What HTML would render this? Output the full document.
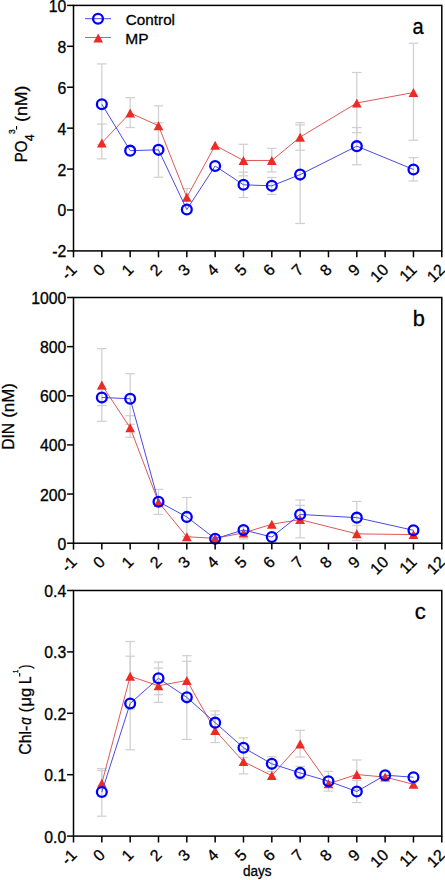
<!DOCTYPE html>
<html><head><meta charset="utf-8"><style>
html,body{margin:0;padding:0;background:#fff;}
body{width:445px;height:880px;overflow:hidden;}
svg{display:block;font-family:"Liberation Sans", sans-serif;}
text{stroke:#000;stroke-width:0.3px;}
</style></head><body>
<svg width="445" height="880" viewBox="0 0 445 880">
<g stroke="#d0d0d0" stroke-width="1.25" fill="none">
<path d="M101.83 124.06V158.84"/>
<path d="M97.03 124.06H106.63"/>
<path d="M97.03 158.84H106.63"/>
<path d="M130.16 97.67V127.54"/>
<path d="M125.36 97.67H134.96"/>
<path d="M125.36 127.54H134.96"/>
<path d="M158.49 105.85V145.54"/>
<path d="M153.69 105.85H163.29"/>
<path d="M153.69 145.54H163.29"/>
<path d="M186.82 188.5V206.1"/>
<path d="M182.02 188.5H191.62"/>
<path d="M182.02 206.1H191.62"/>
<path d="M243.48 144.31V175.82"/>
<path d="M238.68 144.31H248.28"/>
<path d="M238.68 175.82H248.28"/>
<path d="M271.81 148.4V171.93"/>
<path d="M267.01 148.4H276.61"/>
<path d="M267.01 171.93H276.61"/>
<path d="M300.14 122.63V150.25"/>
<path d="M295.34 122.63H304.94"/>
<path d="M295.34 150.25H304.94"/>
<path d="M356.8 72.5V132.65"/>
<path d="M352 72.5H361.6"/>
<path d="M352 132.65H361.6"/>
<path d="M413.46 43.25V140.22"/>
<path d="M408.66 43.25H418.26"/>
<path d="M408.66 140.22H418.26"/>
<path d="M101.83 63.91V144.52"/>
<path d="M97.03 63.91H106.63"/>
<path d="M97.03 144.52H106.63"/>
<path d="M158.49 122.63V177.25"/>
<path d="M153.69 122.63H163.29"/>
<path d="M153.69 177.25H163.29"/>
<path d="M243.48 172.14V197.5"/>
<path d="M238.68 172.14H248.28"/>
<path d="M238.68 197.5H248.28"/>
<path d="M271.81 177.45V194.44"/>
<path d="M267.01 177.45H276.61"/>
<path d="M267.01 194.44H276.61"/>
<path d="M300.14 124.88V223.49"/>
<path d="M295.34 124.88H304.94"/>
<path d="M295.34 223.49H304.94"/>
<path d="M356.8 127.54V164.77"/>
<path d="M352 127.54H361.6"/>
<path d="M352 164.77H361.6"/>
<path d="M413.46 157.61V180.93"/>
<path d="M408.66 157.61H418.26"/>
<path d="M408.66 180.93H418.26"/>
</g>
<polyline points="101.83,142.88 130.16,113.01 158.49,125.7 186.82,197.3 215.15,145.34 243.48,160.47 271.81,160.47 300.14,137.15 356.8,102.99 413.46,92.55" fill="none" stroke="#dc5a5a" stroke-width="1"/>
<path d="M101.83 138.38L106.68 147.38L96.98 147.38Z" fill="#ee2a24"/>
<path d="M130.16 108.51L135.01 117.51L125.31 117.51Z" fill="#ee2a24"/>
<path d="M158.49 121.2L163.34 130.19L153.64 130.19Z" fill="#ee2a24"/>
<path d="M186.82 192.8L191.67 201.8L181.97 201.8Z" fill="#ee2a24"/>
<path d="M215.15 140.84L220 149.84L210.3 149.84Z" fill="#ee2a24"/>
<path d="M243.48 155.97L248.33 164.97L238.63 164.97Z" fill="#ee2a24"/>
<path d="M271.81 155.97L276.66 164.97L266.96 164.97Z" fill="#ee2a24"/>
<path d="M300.14 132.65L304.99 141.65L295.29 141.65Z" fill="#ee2a24"/>
<path d="M356.8 98.49L361.65 107.49L351.95 107.49Z" fill="#ee2a24"/>
<path d="M413.46 88.05L418.31 97.05L408.61 97.05Z" fill="#ee2a24"/>
<polyline points="101.83,104.21 130.16,150.65 158.49,149.84 186.82,209.57 215.15,166 243.48,184.82 271.81,185.84 300.14,174.59 356.8,146.15 413.46,169.48" fill="none" stroke="#4a4ae8" stroke-width="1"/>
<circle cx="101.83" cy="104.21" r="4.9" fill="none" stroke="#0000ff" stroke-width="2.3"/>
<circle cx="130.16" cy="150.65" r="4.9" fill="none" stroke="#0000ff" stroke-width="2.3"/>
<circle cx="158.49" cy="149.84" r="4.9" fill="none" stroke="#0000ff" stroke-width="2.3"/>
<circle cx="186.82" cy="209.57" r="4.9" fill="none" stroke="#0000ff" stroke-width="2.3"/>
<circle cx="215.15" cy="166" r="4.9" fill="none" stroke="#0000ff" stroke-width="2.3"/>
<circle cx="243.48" cy="184.82" r="4.9" fill="none" stroke="#0000ff" stroke-width="2.3"/>
<circle cx="271.81" cy="185.84" r="4.9" fill="none" stroke="#0000ff" stroke-width="2.3"/>
<circle cx="300.14" cy="174.59" r="4.9" fill="none" stroke="#0000ff" stroke-width="2.3"/>
<circle cx="356.8" cy="146.15" r="4.9" fill="none" stroke="#0000ff" stroke-width="2.3"/>
<circle cx="413.46" cy="169.48" r="4.9" fill="none" stroke="#0000ff" stroke-width="2.3"/>
<rect x="73.5" y="5.4" width="368.29" height="245.5" fill="none" stroke="#000" stroke-width="1.5"/>
<g stroke="#000" stroke-width="1.5">
<path d="M67.1 250.9H73.5"/>
<path d="M67.1 209.98H73.5"/>
<path d="M67.1 169.07H73.5"/>
<path d="M67.1 128.15H73.5"/>
<path d="M67.1 87.23H73.5"/>
<path d="M67.1 46.32H73.5"/>
<path d="M67.1 5.4H73.5"/>
<path d="M73.5 250.9V257.3"/>
<path d="M101.83 250.9V257.3"/>
<path d="M130.16 250.9V257.3"/>
<path d="M158.49 250.9V257.3"/>
<path d="M186.82 250.9V257.3"/>
<path d="M215.15 250.9V257.3"/>
<path d="M243.48 250.9V257.3"/>
<path d="M271.81 250.9V257.3"/>
<path d="M300.14 250.9V257.3"/>
<path d="M328.47 250.9V257.3"/>
<path d="M356.8 250.9V257.3"/>
<path d="M385.13 250.9V257.3"/>
<path d="M413.46 250.9V257.3"/>
<path d="M441.79 250.9V257.3"/>
</g>
<g font-size="15.8" text-anchor="end" fill="#000">
<text x="66.3" y="257.4">-2</text>
<text x="66.3" y="216.48">0</text>
<text x="66.3" y="175.57">2</text>
<text x="66.3" y="134.65">4</text>
<text x="66.3" y="93.73">6</text>
<text x="66.3" y="52.82">8</text>
<text x="66.3" y="11.9">10</text>
</g>
<g font-size="16.0" text-anchor="end" fill="#000">
<text transform="translate(74 266.9) rotate(-45)" x="0" y="5.4">-1</text>
<text transform="translate(102.33 266.9) rotate(-45)" x="0" y="5.4">0</text>
<text transform="translate(130.66 266.9) rotate(-45)" x="0" y="5.4">1</text>
<text transform="translate(158.99 266.9) rotate(-45)" x="0" y="5.4">2</text>
<text transform="translate(187.32 266.9) rotate(-45)" x="0" y="5.4">3</text>
<text transform="translate(215.65 266.9) rotate(-45)" x="0" y="5.4">4</text>
<text transform="translate(243.98 266.9) rotate(-45)" x="0" y="5.4">5</text>
<text transform="translate(272.31 266.9) rotate(-45)" x="0" y="5.4">6</text>
<text transform="translate(300.64 266.9) rotate(-45)" x="0" y="5.4">7</text>
<text transform="translate(328.97 266.9) rotate(-45)" x="0" y="5.4">8</text>
<text transform="translate(357.3 266.9) rotate(-45)" x="0" y="5.4">9</text>
<text transform="translate(385.63 266.9) rotate(-45)" x="0" y="5.4">10</text>
<text transform="translate(413.96 266.9) rotate(-45)" x="0" y="5.4">11</text>
<text transform="translate(442.29 266.9) rotate(-45)" x="0" y="5.4">12</text>
</g>
<g stroke="#d0d0d0" stroke-width="1.25" fill="none">
<path d="M101.83 348.61V421.33"/>
<path d="M97.03 348.61H106.63"/>
<path d="M97.03 421.33H106.63"/>
<path d="M130.16 415.68V437.3"/>
<path d="M125.36 415.68H134.96"/>
<path d="M125.36 437.3H134.96"/>
<path d="M243.48 526.74V539.02"/>
<path d="M238.68 526.74H248.28"/>
<path d="M238.68 539.02H248.28"/>
<path d="M300.14 499.96V537.79"/>
<path d="M295.34 499.96H304.94"/>
<path d="M295.34 537.79H304.94"/>
<path d="M356.8 525.51V540.5"/>
<path d="M352 525.51H361.6"/>
<path d="M352 540.5H361.6"/>
<path d="M101.83 389.39V405.61"/>
<path d="M97.03 389.39H106.63"/>
<path d="M97.03 405.61H106.63"/>
<path d="M130.16 373.67V424.28"/>
<path d="M125.36 373.67H134.96"/>
<path d="M125.36 424.28H134.96"/>
<path d="M158.49 489.39V514.45"/>
<path d="M153.69 489.39H163.29"/>
<path d="M153.69 514.45H163.29"/>
<path d="M186.82 497.5V536.32"/>
<path d="M182.02 497.5H191.62"/>
<path d="M182.02 536.32H191.62"/>
<path d="M300.14 505.36V523.54"/>
<path d="M295.34 505.36H304.94"/>
<path d="M295.34 523.54H304.94"/>
<path d="M356.8 501.43V533.86"/>
<path d="M352 501.43H361.6"/>
<path d="M352 533.86H361.6"/>
</g>
<polyline points="101.83,384.97 130.16,427.72 158.49,502.17 186.82,536.81 215.15,538.29 243.48,532.88 271.81,524.28 300.14,519.61 356.8,533.86 413.46,534.6" fill="none" stroke="#dc5a5a" stroke-width="1"/>
<path d="M101.83 380.47L106.68 389.47L96.98 389.47Z" fill="#ee2a24"/>
<path d="M130.16 423.22L135.01 432.22L125.31 432.22Z" fill="#ee2a24"/>
<path d="M158.49 497.67L163.34 506.67L153.64 506.67Z" fill="#ee2a24"/>
<path d="M186.82 532.31L191.67 541.31L181.97 541.31Z" fill="#ee2a24"/>
<path d="M215.15 533.79L220 542.79L210.3 542.79Z" fill="#ee2a24"/>
<path d="M243.48 528.38L248.33 537.38L238.63 537.38Z" fill="#ee2a24"/>
<path d="M271.81 519.78L276.66 528.78L266.96 528.78Z" fill="#ee2a24"/>
<path d="M300.14 515.11L304.99 524.11L295.29 524.11Z" fill="#ee2a24"/>
<path d="M356.8 529.36L361.65 538.36L351.95 538.36Z" fill="#ee2a24"/>
<path d="M413.46 530.1L418.31 539.1L408.61 539.1Z" fill="#ee2a24"/>
<polyline points="101.83,397.5 130.16,398.73 158.49,501.68 186.82,516.91 215.15,538.78 243.48,529.93 271.81,537.06 300.14,514.45 356.8,517.65 413.46,530.3" fill="none" stroke="#4a4ae8" stroke-width="1"/>
<circle cx="101.83" cy="397.5" r="4.9" fill="none" stroke="#0000ff" stroke-width="2.3"/>
<circle cx="130.16" cy="398.73" r="4.9" fill="none" stroke="#0000ff" stroke-width="2.3"/>
<circle cx="158.49" cy="501.68" r="4.9" fill="none" stroke="#0000ff" stroke-width="2.3"/>
<circle cx="186.82" cy="516.91" r="4.9" fill="none" stroke="#0000ff" stroke-width="2.3"/>
<circle cx="215.15" cy="538.78" r="4.9" fill="none" stroke="#0000ff" stroke-width="2.3"/>
<circle cx="243.48" cy="529.93" r="4.9" fill="none" stroke="#0000ff" stroke-width="2.3"/>
<circle cx="271.81" cy="537.06" r="4.9" fill="none" stroke="#0000ff" stroke-width="2.3"/>
<circle cx="300.14" cy="514.45" r="4.9" fill="none" stroke="#0000ff" stroke-width="2.3"/>
<circle cx="356.8" cy="517.65" r="4.9" fill="none" stroke="#0000ff" stroke-width="2.3"/>
<circle cx="413.46" cy="530.3" r="4.9" fill="none" stroke="#0000ff" stroke-width="2.3"/>
<rect x="73.5" y="297.5" width="368.29" height="245.7" fill="none" stroke="#000" stroke-width="1.5"/>
<g stroke="#000" stroke-width="1.5">
<path d="M67.1 543.2H73.5"/>
<path d="M67.1 494.06H73.5"/>
<path d="M67.1 444.92H73.5"/>
<path d="M67.1 395.78H73.5"/>
<path d="M67.1 346.64H73.5"/>
<path d="M67.1 297.5H73.5"/>
<path d="M73.5 543.2V549.6"/>
<path d="M101.83 543.2V549.6"/>
<path d="M130.16 543.2V549.6"/>
<path d="M158.49 543.2V549.6"/>
<path d="M186.82 543.2V549.6"/>
<path d="M215.15 543.2V549.6"/>
<path d="M243.48 543.2V549.6"/>
<path d="M271.81 543.2V549.6"/>
<path d="M300.14 543.2V549.6"/>
<path d="M328.47 543.2V549.6"/>
<path d="M356.8 543.2V549.6"/>
<path d="M385.13 543.2V549.6"/>
<path d="M413.46 543.2V549.6"/>
<path d="M441.79 543.2V549.6"/>
</g>
<g font-size="15.8" text-anchor="end" fill="#000">
<text x="66.3" y="549.7">0</text>
<text x="66.3" y="500.56">200</text>
<text x="66.3" y="451.42">400</text>
<text x="66.3" y="402.28">600</text>
<text x="66.3" y="353.14">800</text>
<text x="66.3" y="304">1000</text>
</g>
<g font-size="16.0" text-anchor="end" fill="#000">
<text transform="translate(74 559.2) rotate(-45)" x="0" y="5.4">-1</text>
<text transform="translate(102.33 559.2) rotate(-45)" x="0" y="5.4">0</text>
<text transform="translate(130.66 559.2) rotate(-45)" x="0" y="5.4">1</text>
<text transform="translate(158.99 559.2) rotate(-45)" x="0" y="5.4">2</text>
<text transform="translate(187.32 559.2) rotate(-45)" x="0" y="5.4">3</text>
<text transform="translate(215.65 559.2) rotate(-45)" x="0" y="5.4">4</text>
<text transform="translate(243.98 559.2) rotate(-45)" x="0" y="5.4">5</text>
<text transform="translate(272.31 559.2) rotate(-45)" x="0" y="5.4">6</text>
<text transform="translate(300.64 559.2) rotate(-45)" x="0" y="5.4">7</text>
<text transform="translate(328.97 559.2) rotate(-45)" x="0" y="5.4">8</text>
<text transform="translate(357.3 559.2) rotate(-45)" x="0" y="5.4">9</text>
<text transform="translate(385.63 559.2) rotate(-45)" x="0" y="5.4">10</text>
<text transform="translate(413.96 559.2) rotate(-45)" x="0" y="5.4">11</text>
<text transform="translate(442.29 559.2) rotate(-45)" x="0" y="5.4">12</text>
</g>
<g stroke="#d0d0d0" stroke-width="1.25" fill="none">
<path d="M101.83 770.4V796.19"/>
<path d="M97.03 770.4H106.63"/>
<path d="M97.03 796.19H106.63"/>
<path d="M130.16 641.46V709"/>
<path d="M125.36 641.46H134.96"/>
<path d="M125.36 709H134.96"/>
<path d="M158.49 668.11V702.37"/>
<path d="M153.69 668.11H163.29"/>
<path d="M153.69 702.37H163.29"/>
<path d="M186.82 661.29V699.79"/>
<path d="M182.02 661.29H191.62"/>
<path d="M182.02 699.79H191.62"/>
<path d="M215.15 714.9V742.59"/>
<path d="M210.35 714.9H219.95"/>
<path d="M210.35 742.59H219.95"/>
<path d="M243.48 749.34V773.9"/>
<path d="M238.68 749.34H248.28"/>
<path d="M238.68 773.9H248.28"/>
<path d="M300.14 730.37V757.02"/>
<path d="M295.34 730.37H304.94"/>
<path d="M295.34 757.02H304.94"/>
<path d="M356.8 759.96V789.44"/>
<path d="M352 759.96H361.6"/>
<path d="M352 789.44H361.6"/>
<path d="M101.83 768.56V816.21"/>
<path d="M97.03 768.56H106.63"/>
<path d="M97.03 816.21H106.63"/>
<path d="M130.16 656.2V749.77"/>
<path d="M125.36 656.2H134.96"/>
<path d="M125.36 749.77H134.96"/>
<path d="M158.49 661.97V694.7"/>
<path d="M153.69 661.97H163.29"/>
<path d="M153.69 694.7H163.29"/>
<path d="M186.82 655.71V739.39"/>
<path d="M182.02 655.71H191.62"/>
<path d="M182.02 739.39H191.62"/>
<path d="M215.15 710.91V734.3"/>
<path d="M210.35 710.91H219.95"/>
<path d="M210.35 734.3H219.95"/>
<path d="M243.48 737.86V757.51"/>
<path d="M238.68 737.86H248.28"/>
<path d="M238.68 757.51H248.28"/>
<path d="M271.81 756.71V771.63"/>
<path d="M267.01 756.71H276.61"/>
<path d="M267.01 771.63H276.61"/>
<path d="M300.14 766.41V779.18"/>
<path d="M295.34 766.41H304.94"/>
<path d="M295.34 779.18H304.94"/>
<path d="M328.47 771.32V791.09"/>
<path d="M323.67 771.32H333.27"/>
<path d="M323.67 791.09H333.27"/>
<path d="M356.8 780.47V802.58"/>
<path d="M352 780.47H361.6"/>
<path d="M352 802.58H361.6"/>
</g>
<polyline points="101.83,783.3 130.16,676.21 158.49,685.79 186.82,680.39 215.15,730.49 243.48,761.62 271.81,775.62 300.14,744 328.47,783.73 356.8,774.52 385.13,777.09 413.46,784.28" fill="none" stroke="#dc5a5a" stroke-width="1"/>
<path d="M101.83 778.8L106.68 787.8L96.98 787.8Z" fill="#ee2a24"/>
<path d="M130.16 671.71L135.01 680.71L125.31 680.71Z" fill="#ee2a24"/>
<path d="M158.49 681.29L163.34 690.29L153.64 690.29Z" fill="#ee2a24"/>
<path d="M186.82 675.89L191.67 684.89L181.97 684.89Z" fill="#ee2a24"/>
<path d="M215.15 725.99L220 734.99L210.3 734.99Z" fill="#ee2a24"/>
<path d="M243.48 757.12L248.33 766.12L238.63 766.12Z" fill="#ee2a24"/>
<path d="M271.81 771.12L276.66 780.12L266.96 780.12Z" fill="#ee2a24"/>
<path d="M300.14 739.5L304.99 748.5L295.29 748.5Z" fill="#ee2a24"/>
<path d="M328.47 779.23L333.32 788.23L323.62 788.23Z" fill="#ee2a24"/>
<path d="M356.8 770.02L361.65 779.02L351.95 779.02Z" fill="#ee2a24"/>
<path d="M385.13 772.59L389.98 781.59L380.28 781.59Z" fill="#ee2a24"/>
<path d="M413.46 779.78L418.31 788.78L408.61 788.78Z" fill="#ee2a24"/>
<polyline points="101.83,792.01 130.16,703.48 158.49,678.3 186.82,697.34 215.15,722.63 243.48,747.68 271.81,763.83 300.14,772.92 328.47,781.21 356.8,791.52 385.13,775.19 413.46,777.22" fill="none" stroke="#4a4ae8" stroke-width="1"/>
<circle cx="101.83" cy="792.01" r="4.9" fill="none" stroke="#0000ff" stroke-width="2.3"/>
<circle cx="130.16" cy="703.48" r="4.9" fill="none" stroke="#0000ff" stroke-width="2.3"/>
<circle cx="158.49" cy="678.3" r="4.9" fill="none" stroke="#0000ff" stroke-width="2.3"/>
<circle cx="186.82" cy="697.34" r="4.9" fill="none" stroke="#0000ff" stroke-width="2.3"/>
<circle cx="215.15" cy="722.63" r="4.9" fill="none" stroke="#0000ff" stroke-width="2.3"/>
<circle cx="243.48" cy="747.68" r="4.9" fill="none" stroke="#0000ff" stroke-width="2.3"/>
<circle cx="271.81" cy="763.83" r="4.9" fill="none" stroke="#0000ff" stroke-width="2.3"/>
<circle cx="300.14" cy="772.92" r="4.9" fill="none" stroke="#0000ff" stroke-width="2.3"/>
<circle cx="328.47" cy="781.21" r="4.9" fill="none" stroke="#0000ff" stroke-width="2.3"/>
<circle cx="356.8" cy="791.52" r="4.9" fill="none" stroke="#0000ff" stroke-width="2.3"/>
<circle cx="385.13" cy="775.19" r="4.9" fill="none" stroke="#0000ff" stroke-width="2.3"/>
<circle cx="413.46" cy="777.22" r="4.9" fill="none" stroke="#0000ff" stroke-width="2.3"/>
<rect x="73.5" y="590.5" width="368.29" height="245.6" fill="none" stroke="#000" stroke-width="1.5"/>
<g stroke="#000" stroke-width="1.5">
<path d="M67.1 836.1H73.5"/>
<path d="M67.1 774.7H73.5"/>
<path d="M67.1 713.3H73.5"/>
<path d="M67.1 651.9H73.5"/>
<path d="M67.1 590.5H73.5"/>
<path d="M73.5 836.1V842.5"/>
<path d="M101.83 836.1V842.5"/>
<path d="M130.16 836.1V842.5"/>
<path d="M158.49 836.1V842.5"/>
<path d="M186.82 836.1V842.5"/>
<path d="M215.15 836.1V842.5"/>
<path d="M243.48 836.1V842.5"/>
<path d="M271.81 836.1V842.5"/>
<path d="M300.14 836.1V842.5"/>
<path d="M328.47 836.1V842.5"/>
<path d="M356.8 836.1V842.5"/>
<path d="M385.13 836.1V842.5"/>
<path d="M413.46 836.1V842.5"/>
<path d="M441.79 836.1V842.5"/>
</g>
<g font-size="15.8" text-anchor="end" fill="#000">
<text x="66.3" y="842.6">0.0</text>
<text x="66.3" y="781.2">0.1</text>
<text x="66.3" y="719.8">0.2</text>
<text x="66.3" y="658.4">0.3</text>
<text x="66.3" y="597">0.4</text>
</g>
<g font-size="16.0" text-anchor="end" fill="#000">
<text transform="translate(74 852.1) rotate(-45)" x="0" y="5.4">-1</text>
<text transform="translate(102.33 852.1) rotate(-45)" x="0" y="5.4">0</text>
<text transform="translate(130.66 852.1) rotate(-45)" x="0" y="5.4">1</text>
<text transform="translate(158.99 852.1) rotate(-45)" x="0" y="5.4">2</text>
<text transform="translate(187.32 852.1) rotate(-45)" x="0" y="5.4">3</text>
<text transform="translate(215.65 852.1) rotate(-45)" x="0" y="5.4">4</text>
<text transform="translate(243.98 852.1) rotate(-45)" x="0" y="5.4">5</text>
<text transform="translate(272.31 852.1) rotate(-45)" x="0" y="5.4">6</text>
<text transform="translate(300.64 852.1) rotate(-45)" x="0" y="5.4">7</text>
<text transform="translate(328.97 852.1) rotate(-45)" x="0" y="5.4">8</text>
<text transform="translate(357.3 852.1) rotate(-45)" x="0" y="5.4">9</text>
<text transform="translate(385.63 852.1) rotate(-45)" x="0" y="5.4">10</text>
<text transform="translate(413.96 852.1) rotate(-45)" x="0" y="5.4">11</text>
<text transform="translate(442.29 852.1) rotate(-45)" x="0" y="5.4">12</text>
</g>
<path d="M85 18.7H111" stroke="#4a4ae8" stroke-width="1"/>
<circle cx="98" cy="18.7" r="4.9" fill="none" stroke="#0000ff" stroke-width="2.3"/>
<path d="M85 37.5H111" stroke="#dc5a5a" stroke-width="1"/>
<path d="M98.2 33.6L103 42.4L93.4 42.4Z" fill="#ee2a24"/>
<text transform="translate(125.83 24.7) scale(1.0242 1)" font-size="14.9">Control</text>
<text transform="translate(125.33 43.7) scale(1.0422 1)" font-size="14.9">MP</text>
<text transform="translate(26.8 160.9) rotate(-90) translate(-1.23 0) scale(0.8813 1)" font-size="17">PO</text>
<text transform="translate(33.7 160.9) rotate(-90) translate(19.71 0) scale(1.0002 1)" font-size="12.5">4</text>
<text transform="translate(15.3 160.9) rotate(-90) translate(26.78 0) scale(0.9170 1)" font-size="9.2">3</text>
<rect x="16" y="126" width="1.1" height="3.6" fill="#000"/>
<text transform="translate(26.8 160.9) rotate(-90) translate(38.9 0) scale(1.0448 1)" font-size="17">(nM)</text>
<text transform="translate(13.8 448.5) rotate(-90) translate(-1.28 0) scale(0.9209 1)" font-size="17">DIN</text>
<text transform="translate(13.8 448.5) rotate(-90) translate(30.65 0) scale(0.9961 1)" font-size="17">(nM)</text>
<text transform="translate(30.5 754) rotate(-90) translate(-0.81 0) scale(0.9340 1)" font-size="17">Chl-</text>
<text transform="translate(30.5 754) rotate(-90) translate(29.16 0) scale(0.7717 1)" font-size="17" font-style="italic">ɑ</text>
<text transform="translate(30.5 754) rotate(-90) translate(41.69 0) scale(0.8653 1)" font-size="17">(</text>
<text transform="translate(30.5 754) rotate(-90) translate(47.48 0) scale(0.9760 1)" font-size="17">μg</text>
<text transform="translate(30.5 754) rotate(-90) translate(69.88 0) scale(0.8005 1)" font-size="17">L</text>
<rect x="19.15" y="673" width="1.1" height="3.6" fill="#000"/>
<text transform="translate(18.1 754) rotate(-90) translate(80.96 0) scale(0.7629 1)" font-size="7.6">1</text>
<text transform="translate(30.5 754) rotate(-90) translate(85.13 0) scale(0.7321 1)" font-size="17">)</text>
<text transform="translate(242.93 875.7) scale(0.9357 1)" font-size="14.5">days</text>
<text transform="translate(412.55 33.5) scale(0.9326 1)" font-size="21.5">a</text>
<text transform="translate(412.8 325.9) scale(1.0136 1)" font-size="21.5">b</text>
<text transform="translate(414.66 618.9) scale(1.0248 1)" font-size="21.5">c</text>
</svg>
</body></html>
